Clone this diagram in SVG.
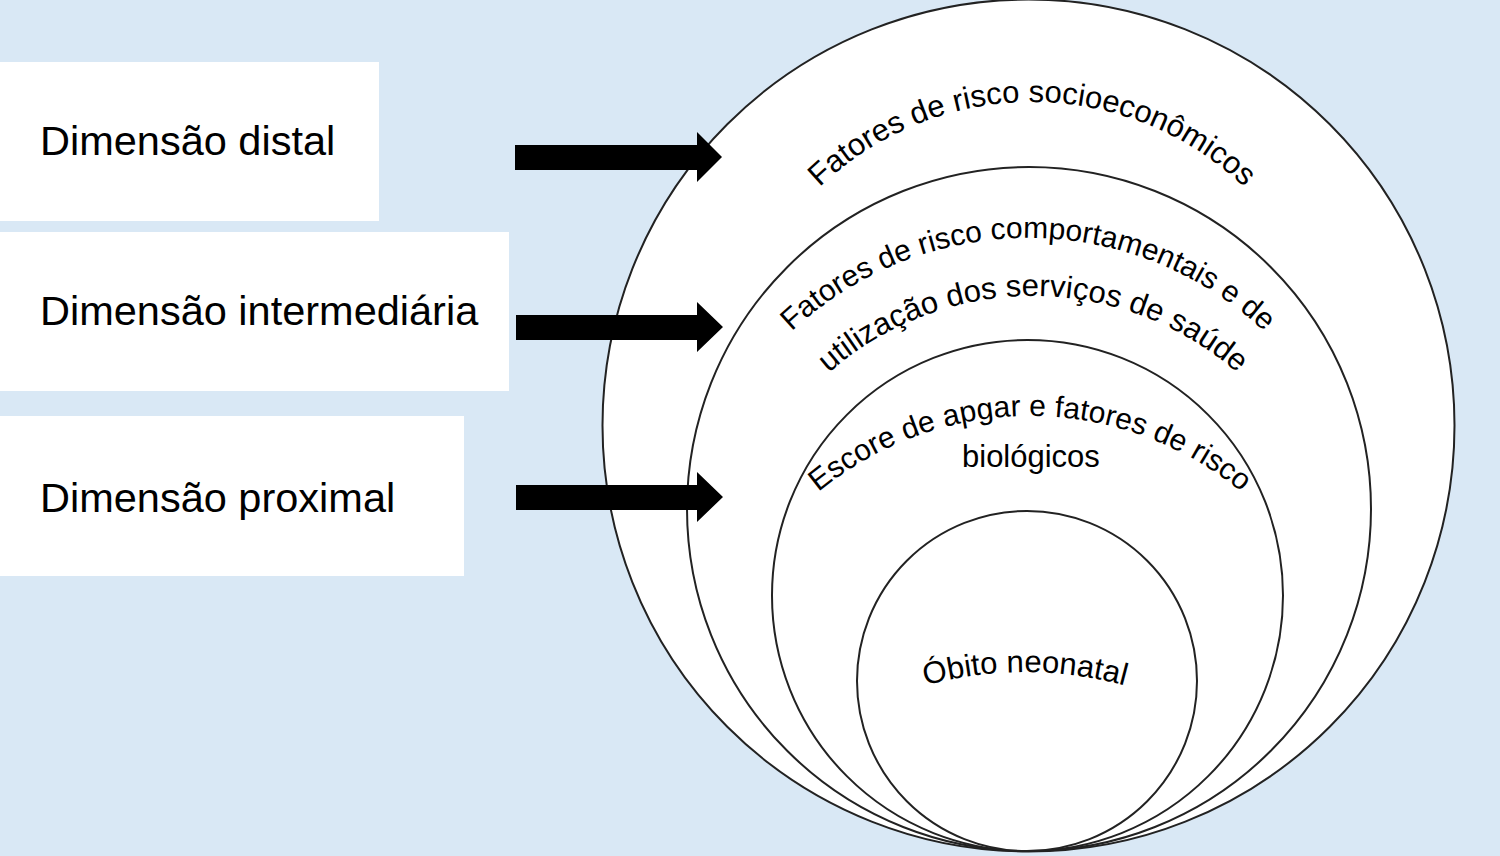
<svg xmlns="http://www.w3.org/2000/svg" width="1500" height="856" viewBox="0 0 1500 856">
<style>
.box{fill:#ffffff;stroke:none}
.lbl{font-family:"Liberation Sans",Arial,Helvetica,sans-serif;font-size:41.5px;fill:#000}
.ring{fill:#ffffff;stroke:#222;stroke-width:2}
.arc{font-family:"Liberation Sans",Arial,Helvetica,sans-serif;font-size:31px;fill:#000}
.arrow{fill:#000;stroke:none}
</style>
<defs>
<path id="p1" d="M 743.5 304 A 307 307 0 0 1 1320.5 304"/>
<path id="p2" d="M 703.8 465 A 345 345 0 0 1 1352.2 465"/>
<path id="p3" d="M 741.7 500 A 310 310 0 0 1 1324.3 500"/>
<path id="p4" d="M 718 634.5 A 332 332 0 0 1 1342 634.5"/>
<path id="p5" d="M 835 723 A 380 380 0 0 1 1215 723"/>
</defs>
<rect x="0" y="0" width="1500" height="856" fill="#d9e8f5"/>

<g id="box-distal">
<rect class="box" x="0" y="62" width="379" height="159"/>
<text class="lbl" x="40" y="155">Dimensão distal</text>
</g>
<g id="box-intermediaria">
<rect class="box" x="0" y="232" width="509" height="159"/>
<text class="lbl" x="40" y="325">Dimensão intermediária</text>
</g>
<g id="box-proximal">
<rect class="box" x="0" y="416" width="464" height="160"/>
<text class="lbl" x="40" y="512">Dimensão proximal</text>
</g>

<g id="ring-socioeconomicos">
<circle class="ring" cx="1028.5" cy="425.5" r="426"/>
<text class="arc"><textPath href="#p1" startOffset="50%" text-anchor="middle">Fatores de risco socioeconômicos</textPath></text>
</g>
<g id="ring-comportamentais">
<circle class="ring" cx="1029" cy="509" r="342"/>
<text class="arc" style="font-size:30px"><textPath href="#p2" startOffset="50%" text-anchor="middle">Fatores de risco comportamentais e de</textPath></text>
<text class="arc"><textPath href="#p3" startOffset="50%" text-anchor="middle">utilização dos serviços de saúde</textPath></text>
</g>
<g id="ring-biologicos">
<circle class="ring" cx="1027.5" cy="595.5" r="255.5"/>
<text class="arc" style="font-size:30px"><textPath href="#p4" startOffset="50%" text-anchor="middle">Escore de apgar e fatores de risco</textPath></text>
<text class="arc" x="962" y="467">biológicos</text>
</g>
<g id="ring-obito">
<circle class="ring" cx="1027" cy="681" r="170"/>
<text class="arc"><textPath href="#p5" startOffset="50%" text-anchor="middle">Óbito neonatal</textPath></text>
</g>

<g id="connectors">
<polygon class="arrow" points="515,145 697,145 697,132 722,157 697,182 697,170 515,170"/>
<polygon class="arrow" points="516,315 697,315 697,302 723,327 697,352 697,340 516,340"/>
<polygon class="arrow" points="516,485 697,485 697,472 723,497 697,522 697,510 516,510"/>
</g>
</svg>
